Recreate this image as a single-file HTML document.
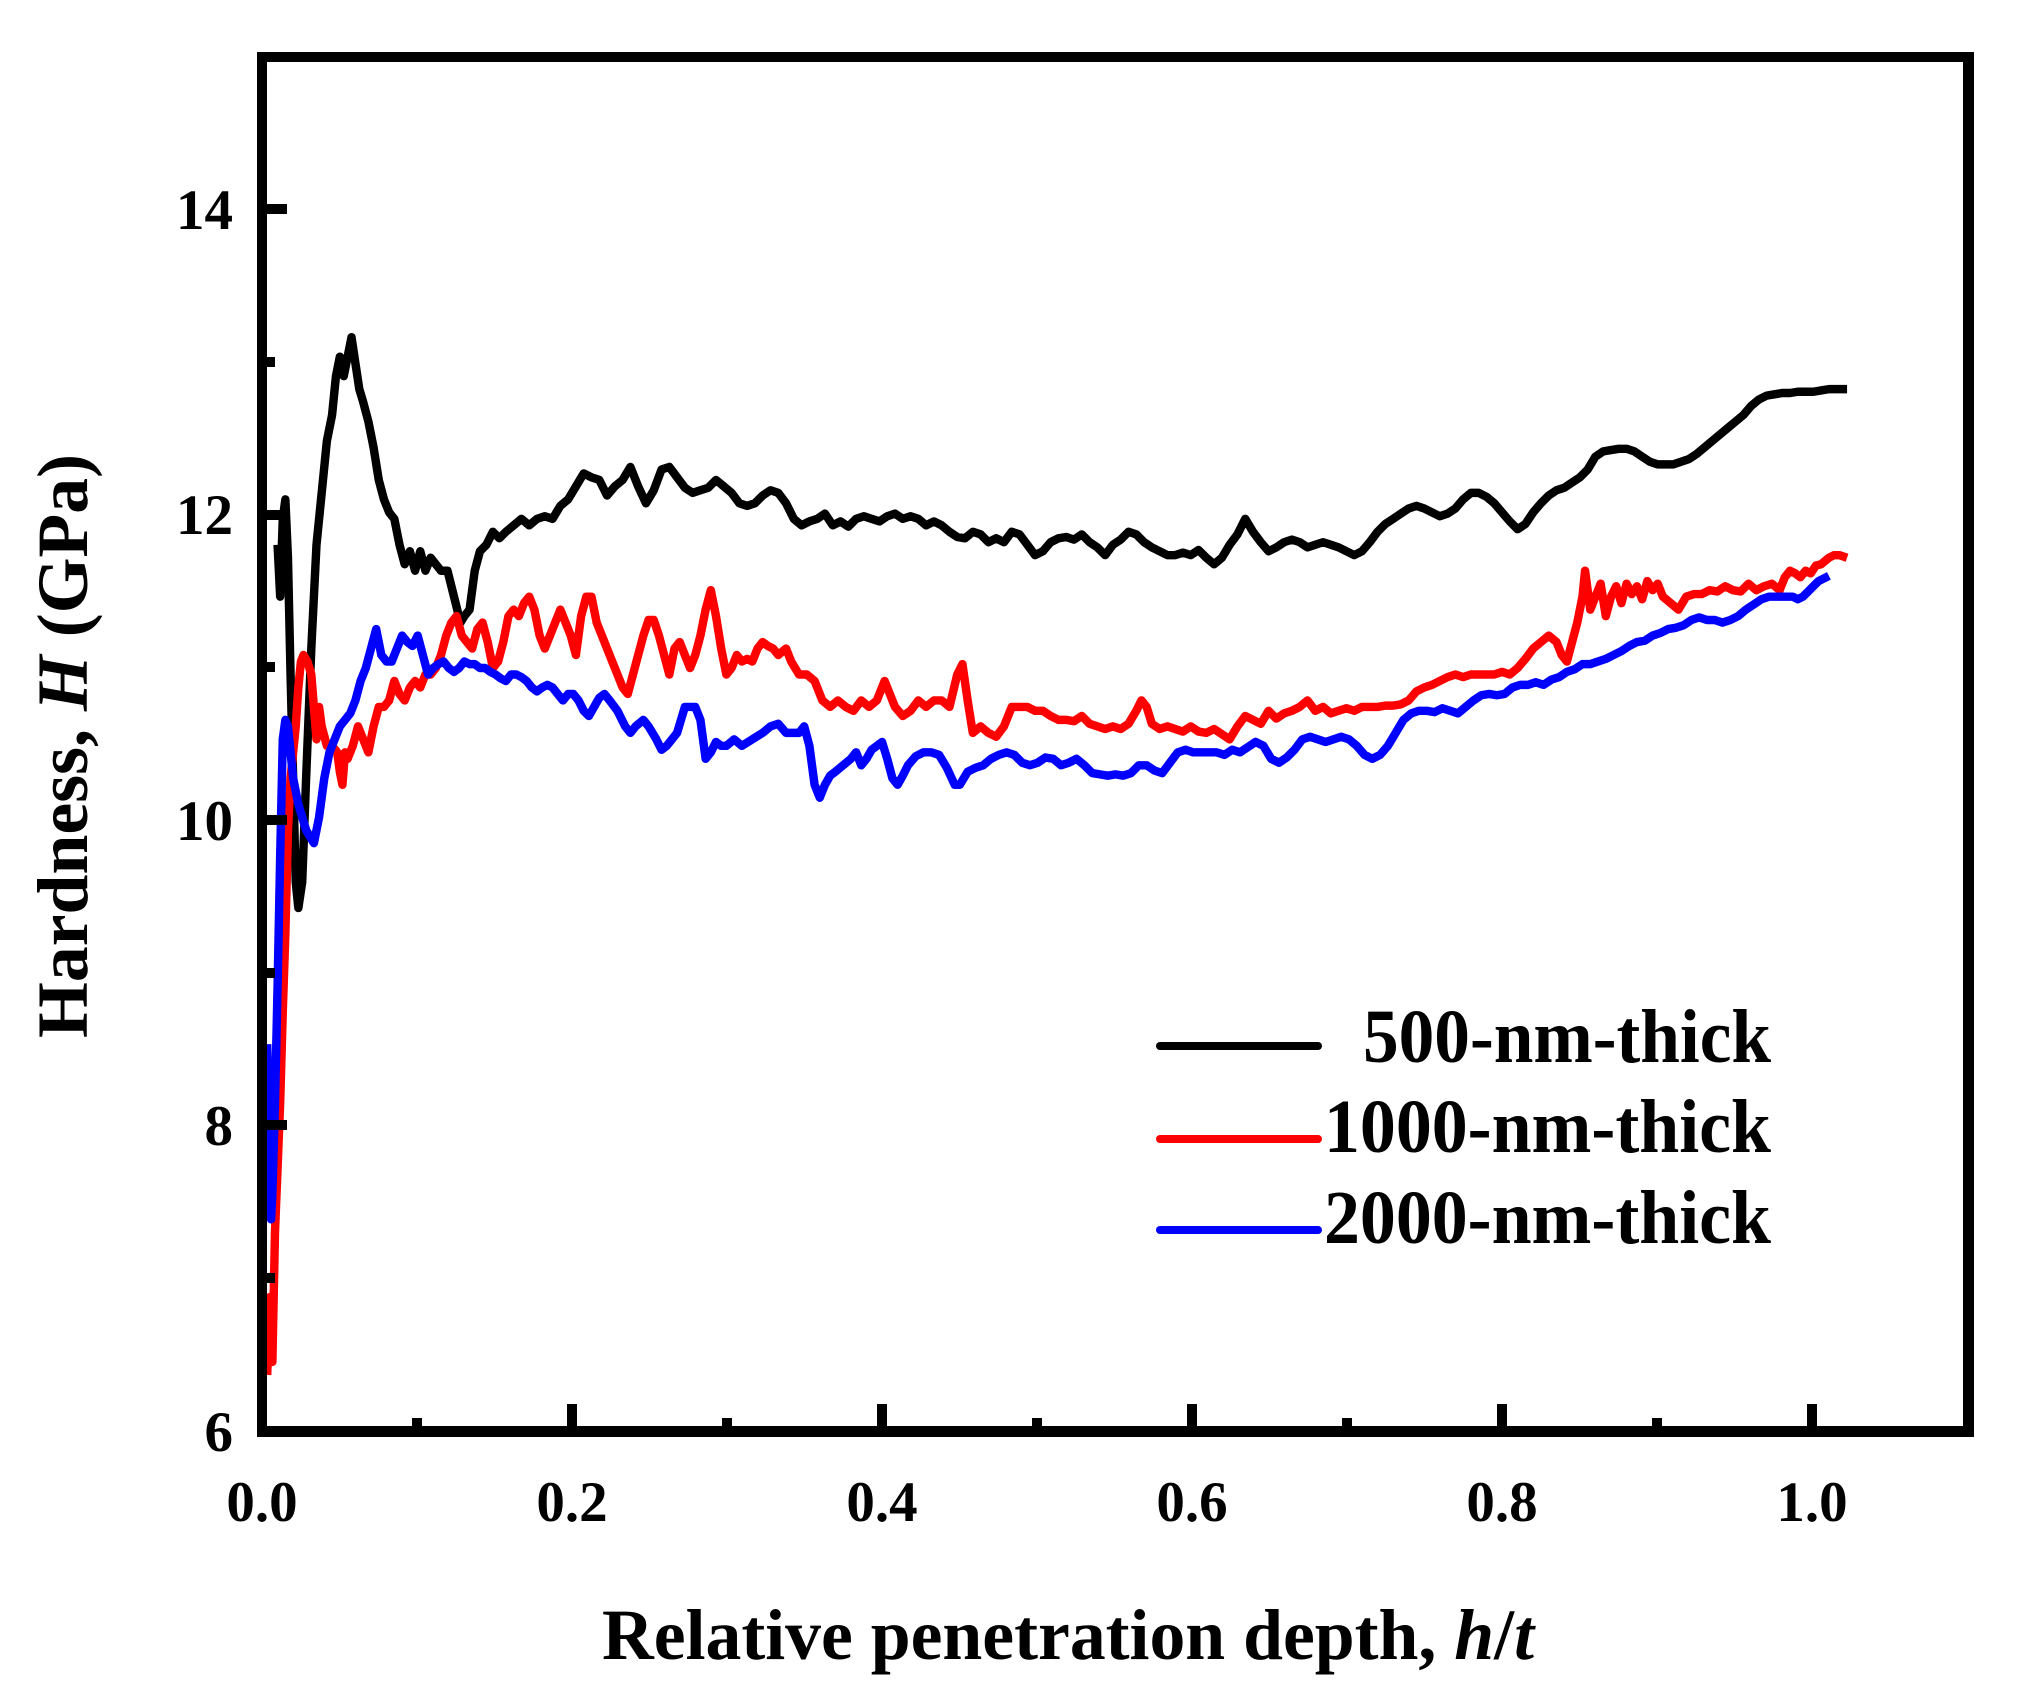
<!DOCTYPE html>
<html><head><meta charset="utf-8"><style>html,body{margin:0;padding:0;background:#fff}svg{display:block}</style></head>
<body>
<svg width="2017" height="1699" viewBox="0 0 2017 1699" xmlns="http://www.w3.org/2000/svg">
<rect width="2017" height="1699" fill="#fff"/>
<g font-family="Liberation Serif, serif" font-weight="bold" fill="#000">
<g font-size="57" text-anchor="end">
<text x="233" y="229">14</text><text x="233" y="534">12</text><text x="233" y="840">10</text><text x="233" y="1145">8</text><text x="233" y="1451">6</text>
</g>
<g font-size="57" text-anchor="middle">
<text x="262" y="1521">0.0</text><text x="572" y="1521">0.2</text><text x="882" y="1521">0.4</text><text x="1192" y="1521">0.6</text><text x="1502" y="1521">0.8</text><text x="1812" y="1521">1.0</text>
</g>
<text x="602" y="1659" font-size="72" textLength="932" lengthAdjust="spacingAndGlyphs">Relative penetration depth, <tspan font-style="italic">h</tspan>/<tspan font-style="italic">t</tspan></text>
<text transform="translate(87,1038) rotate(-90)" font-size="72" textLength="584" lengthAdjust="spacingAndGlyphs">Hardness, <tspan font-style="italic">H</tspan> (GPa)</text>
<g font-size="76" text-anchor="end">
<text x="1771" y="1062" textLength="408" lengthAdjust="spacingAndGlyphs">500-nm-thick</text>
<text x="1771" y="1152" textLength="447" lengthAdjust="spacingAndGlyphs">1000-nm-thick</text>
<text x="1771" y="1243" textLength="447" lengthAdjust="spacingAndGlyphs">2000-nm-thick</text>
</g>
</g>
<g stroke-linecap="round" stroke-width="8">
<line x1="1160" y1="1046" x2="1318" y2="1046" stroke="#000"/>
<line x1="1160" y1="1139" x2="1318" y2="1139" stroke="#f00"/>
<line x1="1160" y1="1230" x2="1318" y2="1230" stroke="#00f"/>
</g>
<g transform="scale(1.2971)" fill="none" stroke-width="6.5" stroke-linejoin="round">
<polyline stroke="#000" points="214,420 216,460 218,400 220,385 222,430 224,520 226,600 228,680 230,700 233,680 236,600 240,500 244,420 248,380 252,340 256,320 259,290 262,275 265,290 268,275 271,260 274,280 277,300 280,310 284,325 288,345 292,370 296,385 300,395 304,400 308,420 312,435 316,425 320,440 324,425 328,440 332,430 336,435 340,440 345,440 350,460 355,480 358,475 362,470 366,440 370,425 375,420 380,410 385,415 390,410 396,405 402,400 408,405 414,400 420,398 426,400 432,390 438,385 444,375 450,365 456,368 462,370 468,382 474,375 480,370 486,360 492,375 498,388 504,378 510,362 516,360 522,368 528,376 534,380 540,378 546,376 552,370 558,375 564,380 570,388 576,390 582,388 588,382 594,378 600,380 606,388 612,400 618,405 624,402 630,400 636,396 642,405 648,402 654,406 660,400 666,398 672,400 678,402 684,398 690,396 696,400 702,398 708,400 714,405 720,402 726,405 732,410 738,414 744,415 750,410 756,412 762,418 768,415 774,418 780,410 786,412 792,420 798,428 804,425 810,418 816,415 822,414 828,416 834,412 840,418 846,422 852,428 858,420 864,416 870,410 876,412 882,418 888,422 894,425 900,428 906,428 912,426 918,428 924,424 930,430 936,435 942,430 948,420 954,412 960,400 966,410 972,418 978,425 984,422 990,418 996,416 1002,418 1008,422 1014,420 1020,418 1026,420 1032,422 1038,425 1044,428 1050,425 1056,418 1062,410 1068,404 1074,400 1080,396 1086,392 1092,390 1098,392 1104,395 1110,398 1116,396 1122,392 1128,385 1134,380 1140,380 1146,383 1152,388 1158,395 1164,402 1170,408 1176,404 1182,395 1188,388 1194,382 1200,378 1206,376 1212,372 1218,368 1224,362 1230,352 1236,348 1242,347 1248,346 1254,346 1260,348 1266,352 1272,356 1278,358 1284,358 1290,358 1296,356 1302,354 1308,350 1314,345 1320,340 1326,335 1332,330 1338,325 1344,320 1350,313 1356,308 1362,305 1368,304 1374,303 1380,303 1386,302 1392,302 1398,302 1404,301 1410,300 1416,300 1424,300"/>
<polyline stroke="#f00" points="206,1060 208,1000 210,1050 212,950 214,900 216,850 218,780 220,720 222,640 224,600 226,580 228,560 230,530 232,510 234,505 237,510 240,520 242,545 244,570 246,545 248,560 252,575 256,575 260,580 262,595 264,605 266,580 268,585 272,575 276,560 280,570 284,580 288,560 292,545 296,545 300,540 304,525 308,535 312,540 316,530 320,525 324,530 328,520 332,520 336,515 340,505 344,490 348,480 352,475 356,490 360,495 364,500 368,485 372,480 376,495 380,515 384,510 388,495 392,475 396,470 400,475 404,465 408,460 412,470 416,490 420,500 424,490 428,480 432,470 436,480 440,490 444,505 448,475 452,460 456,460 460,480 464,490 468,500 472,510 476,520 480,530 484,535 488,520 492,505 496,490 500,478 504,478 508,490 512,505 516,520 520,500 524,495 528,505 532,515 536,505 540,490 544,470 548,455 552,475 556,500 560,520 564,515 568,505 572,510 576,508 580,510 584,500 588,495 592,498 596,500 600,505 606,500 610,510 616,520 622,520 628,525 634,540 640,545 646,540 652,545 658,548 664,540 670,545 676,540 682,525 686,535 690,545 696,552 702,548 708,540 714,545 720,540 726,540 732,545 738,520 742,512 746,540 750,565 756,560 762,565 768,568 774,560 780,545 786,545 792,545 798,548 804,548 810,552 816,555 822,555 828,556 834,552 840,558 846,560 852,562 858,560 864,562 870,558 876,548 880,540 884,545 888,558 894,562 900,560 906,562 912,564 918,560 924,564 930,565 936,562 942,566 948,570 954,560 960,552 966,555 972,558 978,548 984,554 990,550 996,548 1002,545 1008,540 1014,548 1020,545 1026,550 1032,548 1038,546 1044,548 1050,545 1056,545 1062,545 1068,544 1074,544 1080,543 1086,540 1092,533 1098,530 1104,528 1110,525 1116,522 1122,520 1128,522 1134,520 1140,520 1146,520 1152,520 1158,518 1164,520 1170,515 1176,508 1182,500 1188,495 1194,490 1200,495 1204,505 1208,510 1212,495 1216,480 1220,460 1222,440 1226,470 1230,460 1234,450 1238,475 1242,460 1246,452 1250,465 1254,450 1258,458 1262,452 1266,462 1270,448 1274,455 1278,450 1282,460 1288,465 1294,470 1300,460 1306,458 1312,458 1318,455 1324,456 1330,452 1336,455 1342,456 1348,450 1354,455 1360,452 1366,450 1372,455 1376,445 1380,440 1384,442 1388,445 1392,440 1396,442 1400,436 1404,435 1410,430 1414,428 1418,428 1424,430"/>
<polyline stroke="#00f" points="206,805 207,850 208,900 209,940 210,920 212,850 214,760 216,660 218,570 220,555 222,560 224,580 226,600 230,620 236,640 242,650 246,630 250,600 254,580 258,570 262,560 266,555 270,550 274,540 278,525 282,515 286,500 290,485 294,505 298,510 302,510 306,500 310,490 314,495 318,498 322,490 326,505 330,520 334,515 338,512 342,510 346,515 350,518 354,515 358,510 362,512 366,512 370,515 374,515 378,518 382,520 386,523 390,525 394,520 398,520 402,522 406,525 410,530 414,533 418,530 422,528 426,530 430,535 434,540 438,535 442,535 446,540 450,548 454,552 458,545 462,538 466,535 470,540 476,548 482,560 486,565 490,560 496,555 500,560 506,570 510,578 514,575 518,570 522,565 528,545 532,545 536,545 540,555 544,585 548,580 552,572 556,575 560,575 566,570 572,575 580,570 588,565 594,560 600,558 606,565 612,565 616,565 620,560 624,575 628,605 632,615 636,605 640,598 644,595 650,590 656,585 660,580 664,590 668,585 672,578 676,575 680,572 684,585 688,600 692,605 696,598 700,590 706,583 712,580 718,580 724,582 730,592 736,605 740,605 746,595 752,592 758,590 764,585 770,582 776,580 782,582 788,588 794,590 800,588 806,584 812,585 818,590 824,588 830,585 836,590 842,596 848,597 854,598 860,597 866,598 872,596 878,590 884,590 890,594 896,596 902,588 908,580 914,578 920,580 926,580 932,580 938,580 944,582 950,578 956,580 962,576 968,572 974,575 980,585 986,588 992,584 998,578 1004,570 1010,568 1016,570 1022,572 1028,570 1034,568 1040,570 1046,575 1052,582 1058,585 1064,582 1070,575 1076,565 1082,555 1088,550 1094,548 1100,548 1106,549 1112,546 1118,548 1124,550 1130,545 1136,540 1142,536 1148,535 1154,536 1160,535 1166,530 1172,528 1178,528 1184,526 1190,528 1196,524 1202,522 1208,518 1214,516 1220,512 1226,512 1232,510 1238,508 1244,505 1250,502 1256,498 1262,495 1268,494 1274,490 1280,488 1286,485 1292,484 1298,482 1304,478 1310,476 1316,478 1322,478 1328,480 1334,478 1340,475 1346,470 1352,466 1358,462 1364,460 1370,460 1376,460 1382,460 1386,462 1390,460 1394,456 1398,452 1402,448 1410,444"/>
</g>
<g fill="#000">
<rect x="257" y="52" width="1717" height="10"/>
<rect x="257" y="1426" width="1717" height="11"/>
<rect x="257" y="52" width="10" height="1385"/>
<rect x="1963" y="52" width="11" height="1385"/>
<rect x="267" y="204" width="20" height="10"/><rect x="267" y="510" width="20" height="10"/><rect x="267" y="815" width="20" height="10"/><rect x="267" y="1120" width="20" height="10"/>
<rect x="267" y="357" width="8" height="10"/><rect x="267" y="662" width="8" height="10"/><rect x="267" y="968" width="8" height="10"/><rect x="267" y="1273" width="8" height="10"/>
<rect x="567" y="1404" width="10" height="22"/><rect x="877" y="1404" width="10" height="22"/><rect x="1187" y="1404" width="10" height="22"/><rect x="1497" y="1404" width="10" height="22"/><rect x="1807" y="1404" width="10" height="22"/>
<rect x="412" y="1418" width="10" height="8"/><rect x="722" y="1418" width="10" height="8"/><rect x="1032" y="1418" width="10" height="8"/><rect x="1342" y="1418" width="10" height="8"/><rect x="1652" y="1418" width="10" height="8"/>
</g>
</svg>
</body></html>
